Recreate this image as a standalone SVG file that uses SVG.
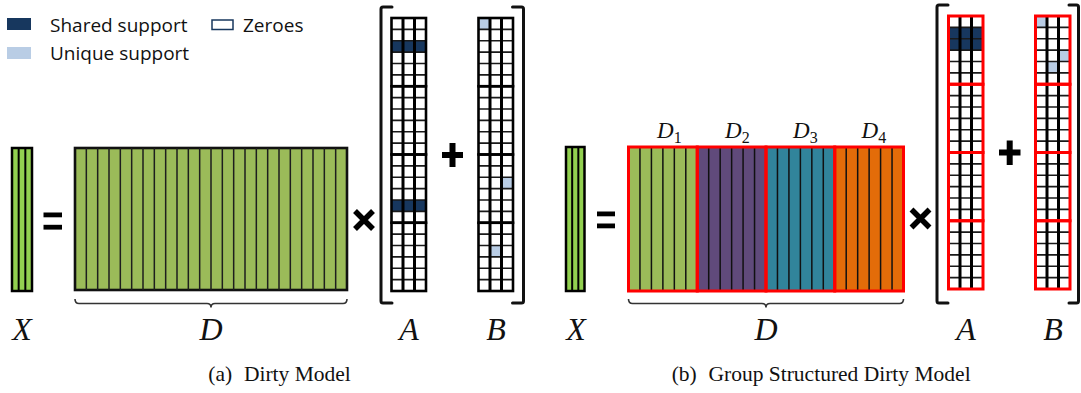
<svg xmlns="http://www.w3.org/2000/svg" width="1081" height="393" viewBox="0 0 1081 393">
<style>
.leg{font-family:"Open Sans","Liberation Sans",sans-serif;font-size:19px;fill:#111}
.mi{font-family:"Liberation Serif",serif;font-style:italic;font-size:32px;fill:#111}
.mis{font-family:"Liberation Serif",serif;font-style:italic;font-size:23px;fill:#111}
.sub{font-style:normal;font-size:16px}
.cap{font-family:"Liberation Serif",serif;font-size:21.5px;fill:#111}
.brk{fill:none;stroke:#111;stroke-width:3;stroke-linecap:round}
.brace{fill:none;stroke:#333;stroke-width:1.6}
.op{fill:#000}
.times{stroke:#000;stroke-width:5.5;stroke-linecap:butt}
.shared{fill:#17375E}
.unique{fill:#B9CDE5}
</style>
<defs>
<g id="grid">
<path d="M0 11.375H34.5M0 22.75H34.5M0 34.125H34.5M0 45.5H34.5M0 56.875H34.5M0 79.625H34.5M0 91H34.5M0 102.375H34.5M0 113.75H34.5M0 125.125H34.5M0 147.875H34.5M0 159.25H34.5M0 170.625H34.5M0 182H34.5M0 193.375H34.5M0 216.125H34.5M0 227.5H34.5M0 238.875H34.5M0 250.25H34.5M0 261.625H34.5" stroke="#1a1a1a" stroke-width="1.6" fill="none"/>
<path d="M11.5 0V273M23 0V273" stroke="#000" stroke-width="3" fill="none"/>
</g>
<g id="blocksBlack" fill="none" stroke="#000" stroke-width="2.6">
<rect x="0" y="0" width="34.5" height="68.25"/>
<rect x="0" y="68.25" width="34.5" height="68.25"/>
<rect x="0" y="136.5" width="34.5" height="68.25"/>
<rect x="0" y="204.75" width="34.5" height="68.25"/>
</g>
<g id="blocksRed" fill="none" stroke="#FF0000" stroke-width="3">
<rect x="0" y="0" width="34.5" height="68.25"/>
<rect x="0" y="68.25" width="34.5" height="68.25"/>
<rect x="0" y="136.5" width="34.5" height="68.25"/>
<rect x="0" y="204.75" width="34.5" height="68.25"/>
</g>
</defs>
<rect x="0" y="0" width="1081" height="393" fill="#fff"/>

<g id="legend">
<rect class="shared" x="7" y="18" width="24" height="12"/>
<text class="leg" x="50" y="31.5">Shared support</text>
<rect class="unique" x="7" y="47" width="24" height="12"/>
<text class="leg" x="50" y="60">Unique support</text>
<rect x="212" y="20" width="21" height="9.5" fill="#fff" stroke="#17375E" stroke-width="1.5"/>
<text class="leg" x="243" y="31.5">Zeroes</text>
</g>

<!-- (a) Dirty Model -->
<g id="Xa">
<rect x="12" y="148" width="20" height="143" fill="#92D050" stroke="#000" stroke-width="2.5"/>
<path d="M18.67 148V291M25.33 148V291" stroke="#000" stroke-width="2"/>
</g>
<g id="eqa" class="op">
<rect x="43.5" y="212.5" width="18.5" height="4.8"/>
<rect x="43.5" y="224.8" width="18.5" height="4.8"/>
</g>
<g id="Da">
<rect x="75" y="148" width="272" height="142" fill="#9BBB59" stroke="#111" stroke-width="2.6"/>
<path d="M86.33 148V290M97.67 148V290M109 148V290M120.33 148V290M131.67 148V290M143 148V290M154.33 148V290M165.67 148V290M177 148V290M188.33 148V290M199.67 148V290M211 148V290M222.33 148V290M233.67 148V290M245 148V290M256.33 148V290M267.67 148V290M279 148V290M290.33 148V290M301.67 148V290M313 148V290M324.33 148V290M335.67 148V290" stroke="#1e1e1e" stroke-width="1.5"/>
</g>
<g id="timesa">
<path class="times" d="M355 211L373 229M373 211L355 229"/>
</g>
<g id="bracketa">
<path class="brk" d="M392 7H383Q381 7 381 9V301Q381 303 383 303H392"/>
<path class="brk" d="M512.5 7H521.5Q523.5 7 523.5 9V301Q523.5 303 521.5 303H512.5"/>
</g>
<g id="Aa" transform="translate(391.5,18)">
<rect x="0" y="0" width="34.5" height="273" fill="#fff"/>
<rect class="shared" x="0" y="22.75" width="34.5" height="11.375"/>
<rect class="shared" x="0" y="182" width="34.5" height="11.375"/>
<use href="#grid"/>
<use href="#blocksBlack"/>
</g>
<g id="plusa" class="op">
<rect x="442" y="152" width="21" height="6"/>
<rect x="449.5" y="143" width="6" height="24"/>
</g>
<g id="Ba" transform="translate(478.5,18)">
<rect x="0" y="0" width="34.5" height="273" fill="#fff"/>
<rect class="unique" x="0" y="0" width="11.5" height="11.375"/>
<rect class="unique" x="23" y="159.25" width="11.5" height="11.375"/>
<rect class="unique" x="11.5" y="227.5" width="11.5" height="11.375"/>
<use href="#grid"/>
<use href="#blocksBlack"/>
</g>

<!-- (b) Group Structured Dirty Model -->
<g id="Xb">
<rect x="566" y="147" width="18.5" height="144" fill="#92D050" stroke="#000" stroke-width="2.5"/>
<path d="M572.17 147V291M578.33 147V291" stroke="#000" stroke-width="2"/>
</g>
<g id="eqb" class="op">
<rect x="597" y="211.5" width="18" height="4.8"/>
<rect x="597" y="223.5" width="18" height="4.8"/>
</g>
<g id="Db">
<rect x="628.5" y="147" width="68.75" height="144" fill="#9BBB59"/>
<rect x="697.25" y="147" width="68.75" height="144" fill="#604A7B"/>
<rect x="766" y="147" width="68.75" height="144" fill="#31849B"/>
<rect x="834.75" y="147" width="68.75" height="144" fill="#E36C09"/>
<path d="M639.96 147V291M651.42 147V291M662.88 147V291M674.33 147V291M685.79 147V291M708.71 147V291M720.17 147V291M731.63 147V291M743.08 147V291M754.54 147V291M777.46 147V291M788.92 147V291M800.38 147V291M811.83 147V291M823.29 147V291M846.21 147V291M857.67 147V291M869.13 147V291M880.58 147V291M892.04 147V291" stroke="#111" stroke-width="1.5"/>
<g fill="none" stroke="#FF0000" stroke-width="3">
<rect x="628.5" y="147" width="68.75" height="144"/>
<rect x="697.25" y="147" width="68.75" height="144"/>
<rect x="766" y="147" width="68.75" height="144"/>
<rect x="834.75" y="147" width="68.75" height="144"/>
</g>
<text class="mis" x="657" y="138">D<tspan class="sub" dy="5">1</tspan></text>
<text class="mis" x="725" y="138">D<tspan class="sub" dy="5">2</tspan></text>
<text class="mis" x="793" y="138">D<tspan class="sub" dy="5">3</tspan></text>
<text class="mis" x="861.5" y="138">D<tspan class="sub" dy="5">4</tspan></text>
</g>
<g id="timesb">
<path class="times" d="M911.5 209.5L929.5 227.5M929.5 209.5L911.5 227.5"/>
</g>
<g id="bracketb">
<path class="brk" d="M948 5H939Q937 5 937 7V301Q937 303 939 303H948"/>
<path class="brk" d="M1069 5H1076.5Q1078.5 5 1078.5 7V301Q1078.5 303 1076.5 303H1069"/>
</g>
<g id="Ab" transform="translate(948.5,16)">
<rect x="0" y="0" width="34.5" height="273" fill="#fff"/>
<rect class="shared" x="0" y="11.375" width="34.5" height="22.75"/>
<use href="#grid"/>
<use href="#blocksRed"/>
</g>
<g id="plusb" class="op">
<rect x="999" y="149.5" width="21.5" height="6"/>
<rect x="1006.7" y="140.5" width="6" height="24.5"/>
</g>
<g id="Bb" transform="translate(1035.5,16)">
<rect x="0" y="0" width="34.5" height="273" fill="#fff"/>
<rect class="unique" x="0" y="0" width="11.5" height="11.375"/>
<rect class="unique" x="23" y="34.125" width="11.5" height="11.375"/>
<rect class="unique" x="11.5" y="45.5" width="11.5" height="11.375"/>
<use href="#grid"/>
<use href="#blocksRed"/>
</g>

<g id="connectors">
<path class="brace" d="M75 299Q75 303.5 79 303.5H207Q211 303.5 211 307.5Q211 303.5 215 303.5H343Q347 303.5 347 299"/>
<path class="brace" d="M628.5 299Q628.5 303.5 632.5 303.5H762Q766 303.5 766 307.5Q766 303.5 770 303.5H899.5Q903.5 303.5 903.5 299"/>
</g>

<g id="labels">
<text class="mi" x="22" y="340" text-anchor="middle">X</text>
<text class="mi" x="211" y="340" text-anchor="middle">D</text>
<text class="mi" x="409" y="340" text-anchor="middle">A</text>
<text class="mi" x="496" y="340" text-anchor="middle">B</text>
<text class="mi" x="576" y="340" text-anchor="middle">X</text>
<text class="mi" x="766" y="340" text-anchor="middle">D</text>
<text class="mi" x="966" y="340" text-anchor="middle">A</text>
<text class="mi" x="1053" y="340" text-anchor="middle">B</text>
</g>

<g id="captions">
<text class="cap" x="208.3" y="381">(a)<tspan dx="11.7">Dirty Model</tspan></text>
<text class="cap" x="671.7" y="381">(b)<tspan dx="11.7">Group Structured Dirty Model</tspan></text>
</g>
</svg>
